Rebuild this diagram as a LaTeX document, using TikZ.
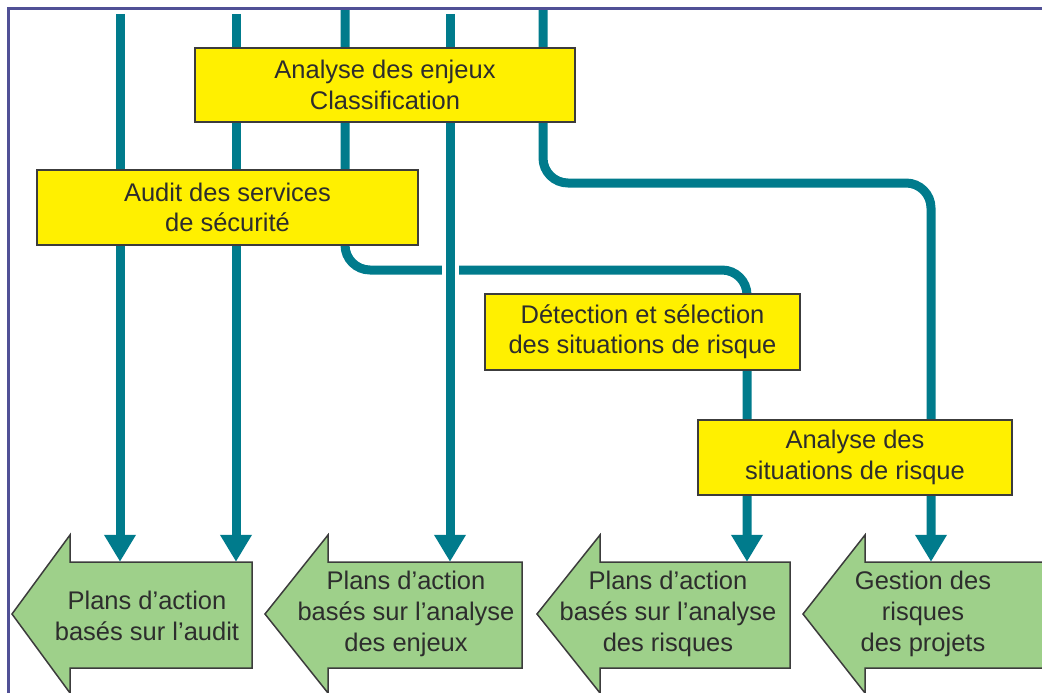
\documentclass[tikz,border=0pt]{standalone}
\usepackage{fontspec}
\setmainfont{Liberation Sans}
\usetikzlibrary{arrows.meta,calc}
\definecolor{teal0}{RGB}{0,123,140}
\definecolor{ybox}{RGB}{255,240,0}
\definecolor{gbox}{RGB}{158,208,138}
\definecolor{edge}{RGB}{60,60,60}
\definecolor{frame}{RGB}{80,80,150}
\definecolor{txt}{RGB}{45,45,45}
\begin{document}
\begin{tikzpicture}[x=1pt,y=-1pt,
  yellowbox/.style={draw=edge, line width=1.5pt, fill=ybox, align=center, inner sep=0pt,
    font=\fontsize{25.5}{30.5}\selectfont, text=txt},
  bodybox/.style={inner sep=0pt},
  greentext/.style={align=center, font=\fontsize{25.5}{31}\selectfont, text=txt},
  greenarrow/.style={draw=edge, line width=1.5pt, fill=gbox, line join=miter},
  flow/.style={draw=teal0, line width=9pt, -{Triangle[width=30pt,length=27pt]}},
  flowplain/.style={draw=teal0, line width=9pt},
  gapline/.style={draw=white, line width=17pt}
]
\useasboundingbox (0,0) rectangle (1042,693);
\clip (0,0) rectangle (1042,693);

% green arrow bodies (named) and their outlines
\node[bodybox, minimum width=182pt, minimum height=106pt] (g1) at (161,615) {};
\node[bodybox, minimum width=194pt, minimum height=106pt] (g2) at (425,615) {};
\node[bodybox, minimum width=190pt, minimum height=106pt] (g3) at (695,615) {};
\node[bodybox, minimum width=190pt, minimum height=106pt] (g4) at (960,615) {};

\draw[greenarrow] (12,614) -- (70,535) -- (70,562) -- (252,562) -- (252,668) -- (70,668) -- (70,693) -- cycle;
\draw[greenarrow] (265,614) -- (328,535) -- (328,562) -- (522,562) -- (522,668) -- (328,668) -- (328,693) -- cycle;
\draw[greenarrow] (537,614) -- (600,535) -- (600,562) -- (790,562) -- (790,668) -- (600,668) -- (600,693) -- cycle;
\draw[greenarrow] (803,614) -- (865,535) -- (865,562) -- (1060,562) -- (1060,668) -- (865,668) -- (865,693) -- cycle;

\node[greentext] (t1) at (147,616) {Plans d'action\\basés sur l'audit};
\node[greentext] (t2) at (406,614) {Plans d'action\\basés sur l'analyse\\des enjeux};
\node[greentext] (t3) at (668,614) {Plans d'action\\basés sur l'analyse\\des risques};
\node[greentext] (t4) at (923,614) {Gestion des\\risques\\des projets};

% start points of the flows
\coordinate (s1) at (120,14);
\coordinate (s2) at (236,14);
\coordinate (s3) at (345,8);
\coordinate (s4) at (450,14);
\coordinate (s5) at (543,8);
\coordinate (k3) at (747,270);
\coordinate (k5) at (931,183);

% flows
\draw[flow] (s1) -- (s1 |- g1.north);
\draw[flow] (s2) -- (s2 |- g1.north);
\draw[flow, rounded corners=25pt] (s3) |- (k3) -- (k3 |- g3.north);
\draw[flow, rounded corners=25pt] (s5) |- (k5) -- (k5 |- g4.north);
\draw[gapline] (s4) -- ($(s4 |- g2.north)+(0,-30)$);
\draw[flow] (s4) -- (s4 |- g2.north);

% yellow boxes
\node[yellowbox, minimum width=380pt, minimum height=74pt] (enj) at (385,85) {Analyse des enjeux\\Classification};
\node[yellowbox, minimum width=381pt, minimum height=75pt] (aud) at (227.5,207.5) {Audit des services\\de sécurité};
\node[yellowbox, minimum width=315pt, minimum height=76pt] (det) at (642.5,332) {Détection et sélection\\des situations de risque};
\node[yellowbox, minimum width=314pt, minimum height=75pt] (sit) at (855,457.5) {Analyse des\\situations de risque};

% frame
\draw[frame, line width=3pt] (1050,8.5) -- (8.5,8.5) -- (8.5,700);
\end{tikzpicture}
\end{document}
